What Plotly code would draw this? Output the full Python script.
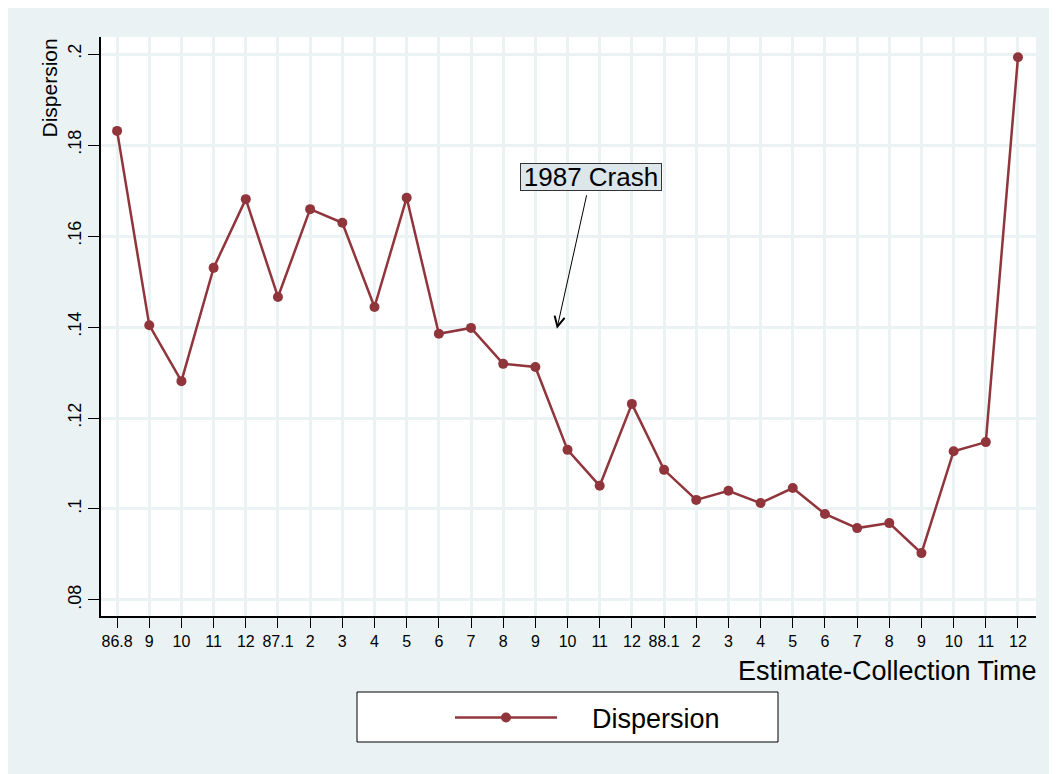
import plotly.graph_objects as go

# ---- data ----
tick_labels = ["86.8", "9", "10", "11", "12", "87.1", "2", "3", "4", "5", "6", "7", "8", "9",
               "10", "11", "12", "88.1", "2", "3", "4", "5", "6", "7", "8", "9", "10", "11", "12"]
dispersion = [0.1831, 0.1404, 0.1281, 0.1530, 0.1681, 0.1466, 0.1659, 0.1629, 0.1444, 0.1684,
              0.1385, 0.1398, 0.1319, 0.1312, 0.1130, 0.1051, 0.1231, 0.1086, 0.1020, 0.1040,
              0.1013, 0.1046, 0.0989, 0.0958, 0.0969, 0.0903, 0.1127, 0.1147, 0.1993]
y_ticks = [0.08, 0.10, 0.12, 0.14, 0.16, 0.18, 0.20]
y_tick_text = [".08", ".1", ".12", ".14", ".16", ".18", ".2"]
x_index = list(range(len(dispersion)))

# annotation (arrow head position / text position, in data units)
crash_head = (13.67, 0.1396)
crash_text = (14.72, 0.1730)

# ---- layout geometry (pixels, figure coordinates) ----
W, H = 1057, 774
OFF = 8  # page body margin
L, R, T, B = 93, 29, 29, 166
pw, ph = W - L - R, H - T - B


def px(x):  # screenshot x -> paper
    return (x - OFF - L) / pw


def py(y):  # screenshot y -> paper
    return (H - B - (y - OFF)) / ph


FONT = "Liberation Sans, Arial, Helvetica, sans-serif"
BG = "#EAF2F3"
LINE = "#90353B"

fig = go.Figure()
fig.add_trace(go.Scatter(
    x=x_index, y=dispersion, mode="lines+markers",
    name="\u00a0\u00a0\u00a0\u00a0Dispersion",
    line=dict(color=LINE, width=2.5),
    marker=dict(color=LINE, size=10),
))

fig.update_layout(
    width=W, height=H,
    margin=dict(l=L, r=R, t=T, b=B, pad=0),
    paper_bgcolor=BG, plot_bgcolor="white",
    font=dict(family=FONT, color="black"),
    showlegend=True,
    legend=dict(
        orientation="h", x=px(450), xanchor="left", y=py(718), yanchor="middle",
        bgcolor="rgba(0,0,0,0)", borderwidth=0, itemwidth=102,
        font=dict(size=27, family=FONT, color="black"),
    ),
    xaxis=dict(
        range=[-0.5, 28.56], tickmode="array", tickvals=x_index, ticktext=tick_labels,
        showgrid=True, gridcolor=BG, gridwidth=2.5, zeroline=False,
        showline=True, linecolor="black", linewidth=1.5,
        ticks="outside", ticklen=10, tickcolor="black", tickwidth=1,
        tickfont=dict(size=16, family=FONT, color="black"),
    ),
    yaxis=dict(
        range=[0.07648, 0.20374], tickmode="array", tickvals=y_ticks, ticktext=y_tick_text,
        showgrid=True, gridcolor=BG, gridwidth=2.5, zeroline=False,
        showline=True, linecolor="black", linewidth=1.5,
        ticks="outside", ticklen=11, tickcolor="black", tickwidth=1,
        tickangle=-90,
        tickfont=dict(size=18, family=FONT, color="black"),
    ),
    shapes=[
        # legend box
        dict(type="rect", xref="paper", yref="paper", x0=px(357), x1=px(778), y0=py(742), y1=py(692),
             fillcolor="white", line=dict(color="black", width=1), layer="above"),
    ],
    annotations=[
        dict(text="Dispersion", xref="paper", yref="paper", x=px(49), y=py(37),
             xanchor="center", yanchor="top", textangle=-90, showarrow=False,
             font=dict(size=21, family=FONT, color="black")),
        dict(text="Estimate-Collection Time", xref="paper", yref="paper", x=px(1039), y=py(671),
             xanchor="right", yanchor="middle", showarrow=False,
             font=dict(size=27, family=FONT, color="black")),
        dict(text="1987 Crash", x=crash_head[0], y=crash_head[1], xref="x", yref="y",
             ax=crash_text[0], ay=crash_text[1], axref="x", ayref="y",
             showarrow=True, arrowhead=5, arrowsize=2, arrowwidth=1, arrowcolor="black",
             startstandoff=5,
             bgcolor="#DCE6EB", bordercolor="#333333", borderwidth=1, borderpad=0,
             width=140, height=26,
             font=dict(size=26, family=FONT, color="black")),
    ],
)

fig.write_html("out.html")
